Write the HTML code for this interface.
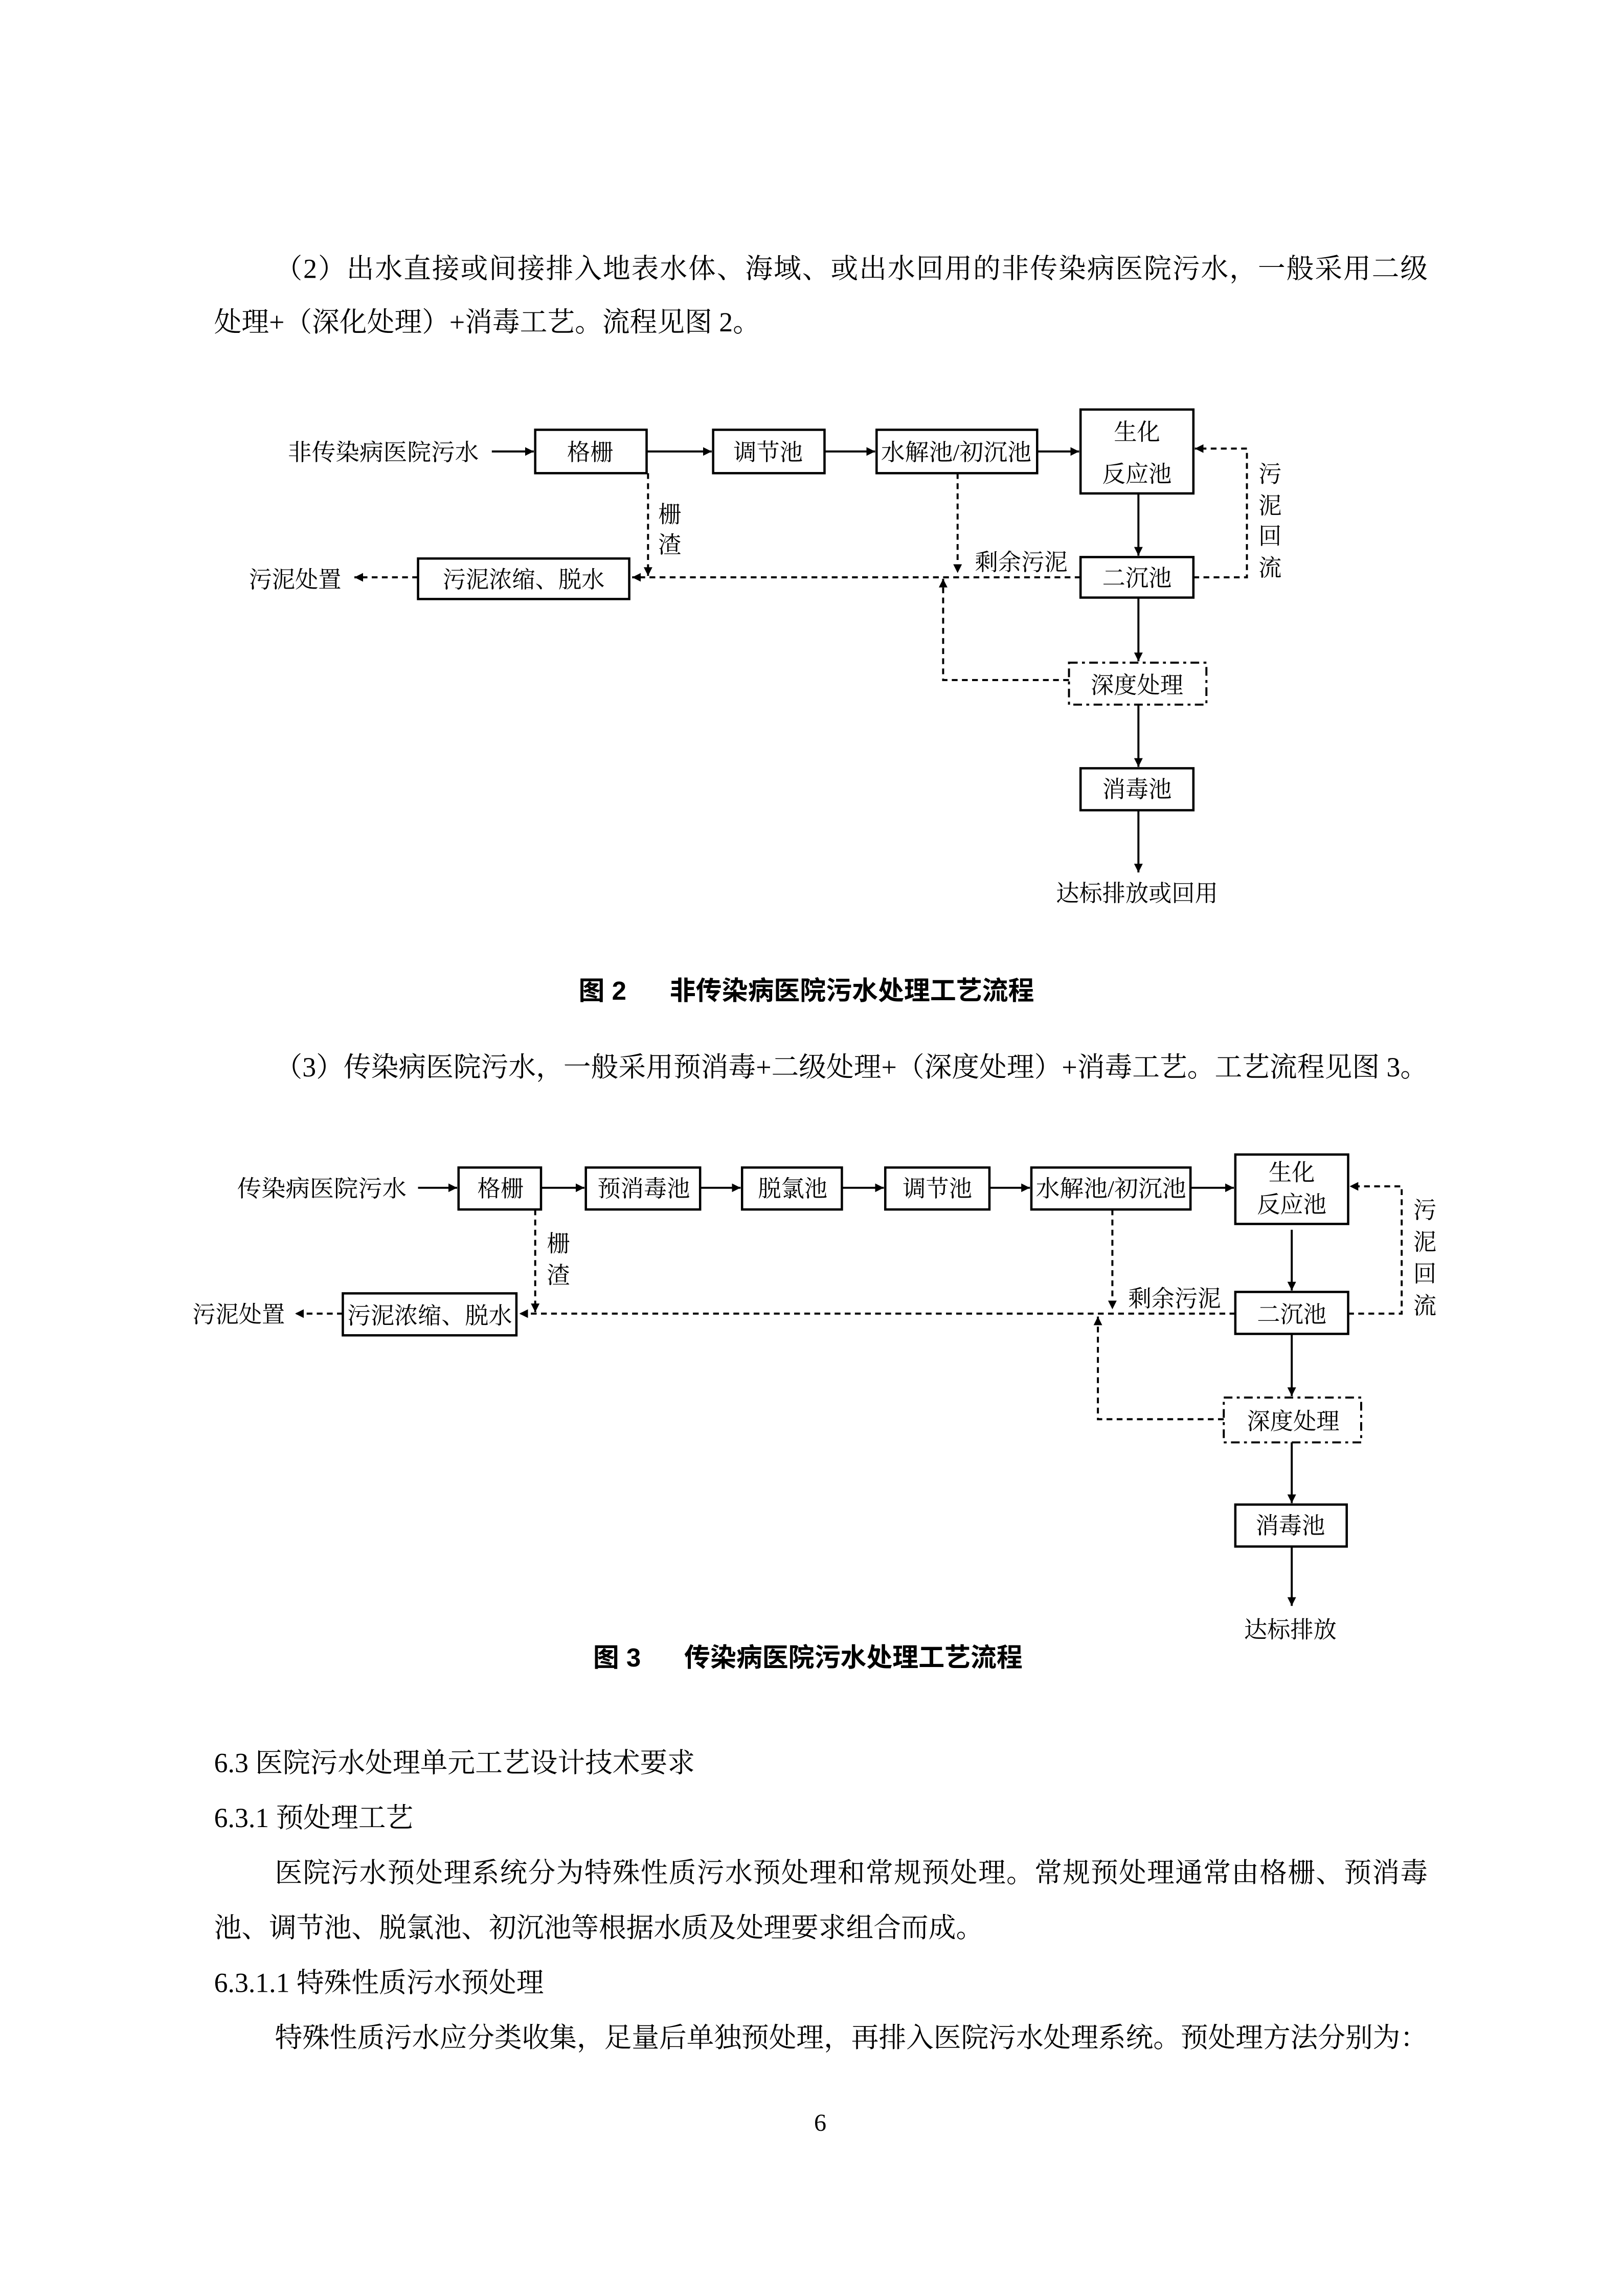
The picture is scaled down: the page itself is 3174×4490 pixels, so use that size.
<!DOCTYPE html>
<html><head><meta charset="utf-8"><style>
html,body{margin:0;padding:0;background:#fff;}
svg{display:block;}
.t{font-family:"Liberation Serif","Noto Serif CJK SC",serif;font-size:19px;fill:#000;}
.l{font-family:"Liberation Serif","Noto Serif CJK SC",serif;font-size:16px;fill:#000;}
.c{font-family:"Liberation Sans","Noto Sans CJK SC",sans-serif;font-size:18px;fill:#000;font-weight:bold;}
.b{fill:#fff;stroke:#000;stroke-width:1.6;}
.s{stroke:#000;stroke-width:1.4;fill:none;}
.d{stroke:#000;stroke-width:1.4;fill:none;stroke-dasharray:4 3;}
</style></head><body>
<svg width="3174" height="4490" viewBox="0 0 1122 1587" xmlns="http://www.w3.org/2000/svg">
<defs>
<marker id="a" viewBox="0 0 10 10" refX="10" refY="5" markerWidth="6" markerHeight="6" markerUnits="userSpaceOnUse" orient="auto"><path d="M0,0L10,5L0,10z" fill="#000"/></marker>
</defs>
<rect width="1122" height="1587" fill="#fff"/>
<text class="t" x="190" y="192" textLength="797" lengthAdjust="spacing">（2）出水直接或间接排入地表水体、海域、或出水回用的非传染病医院污水，一般采用二级</text>
<text class="t" x="148" y="229">处理+（深化处理）+消毒工艺。流程见图 2。</text>

<!-- Figure 2 -->
<g>
<text class="l" x="199" y="318" textLength="132" lengthAdjust="spacingAndGlyphs">非传染病医院污水</text>
<line class="s" x1="340" y1="312" x2="369" y2="312" marker-end="url(#a)"/>
<rect class="b" x="370" y="297" width="77" height="30"/><text class="l" x="408" y="318" text-anchor="middle">格栅</text>
<line class="s" x1="447" y1="312" x2="492" y2="312" marker-end="url(#a)"/>
<rect class="b" x="493" y="297" width="77" height="30"/><text class="l" x="531" y="318" text-anchor="middle">调节池</text>
<line class="s" x1="570" y1="312" x2="605" y2="312" marker-end="url(#a)"/>
<rect class="b" x="606" y="297" width="111" height="30"/><text class="l" x="661" y="318" text-anchor="middle" textLength="104" lengthAdjust="spacingAndGlyphs">水解池/初沉池</text>
<line class="s" x1="717" y1="312" x2="746" y2="312" marker-end="url(#a)"/>
<rect class="b" x="747" y="283" width="78" height="58"/><text class="l" x="786" y="304" text-anchor="middle">生化</text><text class="l" x="786" y="333" text-anchor="middle">反应池</text>
<line class="s" x1="787" y1="341" x2="787" y2="384" marker-end="url(#a)"/>
<rect class="b" x="747" y="385" width="78" height="28"/><text class="l" x="786" y="405" text-anchor="middle">二沉池</text>
<line class="s" x1="787" y1="413" x2="787" y2="457" marker-end="url(#a)"/>
<rect x="739" y="458" width="95" height="29" fill="#fff" stroke="#000" stroke-width="1.4" stroke-dasharray="6 3 2 3"/><text class="l" x="786" y="479" text-anchor="middle">深度处理</text>
<line class="s" x1="787" y1="487" x2="787" y2="530" marker-end="url(#a)"/>
<rect class="b" x="747" y="531" width="78" height="29"/><text class="l" x="786" y="551" text-anchor="middle">消毒池</text>
<line class="s" x1="787" y1="560" x2="787" y2="603" marker-end="url(#a)"/>
<text class="l" x="786" y="623" text-anchor="middle">达标排放或回用</text>
<polyline class="d" points="825,399 862,399 862,310 826,310" marker-end="url(#a)"/>
<text class="l" x="870" y="333">污</text><text class="l" x="870" y="355">泥</text><text class="l" x="870" y="376">回</text><text class="l" x="870" y="398">流</text>
<line class="d" x1="747" y1="399" x2="437" y2="399" marker-end="url(#a)"/>
<rect class="b" x="289" y="386" width="146" height="28"/><text class="l" x="362" y="406" text-anchor="middle">污泥浓缩、脱水</text>
<line class="d" x1="289" y1="399" x2="245" y2="399" marker-end="url(#a)"/>
<text class="l" x="172" y="406">污泥处置</text>
<line class="d" x1="448" y1="327" x2="448" y2="398" marker-end="url(#a)"/>
<text class="l" x="455" y="361">栅</text><text class="l" x="455" y="382">渣</text>
<line class="d" x1="662" y1="327" x2="662" y2="396" marker-end="url(#a)"/>
<text class="l" x="674" y="394">剩余污泥</text>
<polyline class="d" points="739,470 652,470 652,400" marker-end="url(#a)"/>
</g>
<text class="c" x="400" y="691">图 2</text><text class="c" x="463" y="691">非传染病医院污水处理工艺流程</text>

<text class="t" x="190" y="744" textLength="797" lengthAdjust="spacing">（3）传染病医院污水，一般采用预消毒+二级处理+（深度处理）+消毒工艺。工艺流程见图 3。</text>

<!-- Figure 3 -->
<g>
<text class="l" x="164" y="827" textLength="117" lengthAdjust="spacingAndGlyphs">传染病医院污水</text>
<line class="s" x1="289" y1="821" x2="316" y2="821" marker-end="url(#a)"/>
<rect class="b" x="317" y="807" width="57" height="29"/><text class="l" x="346" y="827" text-anchor="middle">格栅</text>
<line class="s" x1="374" y1="821" x2="404" y2="821" marker-end="url(#a)"/>
<rect class="b" x="405" y="807" width="79" height="29"/><text class="l" x="445" y="827" text-anchor="middle">预消毒池</text>
<line class="s" x1="484" y1="821" x2="512" y2="821" marker-end="url(#a)"/>
<rect class="b" x="513" y="807" width="69" height="29"/><text class="l" x="548" y="827" text-anchor="middle">脱氯池</text>
<line class="s" x1="582" y1="821" x2="611" y2="821" marker-end="url(#a)"/>
<rect class="b" x="612" y="807" width="72" height="29"/><text class="l" x="648" y="827" text-anchor="middle">调节池</text>
<line class="s" x1="684" y1="821" x2="712" y2="821" marker-end="url(#a)"/>
<rect class="b" x="713" y="807" width="110" height="29"/><text class="l" x="768" y="827" text-anchor="middle" textLength="104" lengthAdjust="spacingAndGlyphs">水解池/初沉池</text>
<line class="s" x1="823" y1="821" x2="853" y2="821" marker-end="url(#a)"/>
<rect class="b" x="854" y="798" width="78" height="48"/><text class="l" x="893" y="816" text-anchor="middle">生化</text><text class="l" x="893" y="838" text-anchor="middle">反应池</text>
<line class="s" x1="893" y1="850" x2="893" y2="892" marker-end="url(#a)"/>
<rect class="b" x="854" y="893" width="78" height="29"/><text class="l" x="893" y="914" text-anchor="middle">二沉池</text>
<line class="s" x1="893" y1="922" x2="893" y2="965" marker-end="url(#a)"/>
<rect x="846" y="966" width="95" height="31" fill="#fff" stroke="#000" stroke-width="1.4" stroke-dasharray="6 3 2 3"/><text class="l" x="894" y="988" text-anchor="middle">深度处理</text>
<line class="s" x1="893" y1="997" x2="893" y2="1039" marker-end="url(#a)"/>
<rect class="b" x="854" y="1040" width="77" height="29"/><text class="l" x="892" y="1060" text-anchor="middle">消毒池</text>
<line class="s" x1="893" y1="1069" x2="893" y2="1110" marker-end="url(#a)"/>
<text class="l" x="892" y="1132" text-anchor="middle">达标排放</text>
<polyline class="d" points="932,908 969,908 969,820 933,820" marker-end="url(#a)"/>
<text class="l" x="977" y="842">污</text><text class="l" x="977" y="864">泥</text><text class="l" x="977" y="886">回</text><text class="l" x="977" y="908">流</text>
<line class="d" x1="854" y1="908" x2="359" y2="908" marker-end="url(#a)"/>
<rect class="b" x="237" y="894" width="120" height="29"/><text class="l" x="297" y="915" text-anchor="middle" textLength="114" lengthAdjust="spacingAndGlyphs">污泥浓缩、脱水</text>
<line class="d" x1="237" y1="908" x2="204" y2="908" marker-end="url(#a)"/>
<text class="l" x="133" y="914">污泥处置</text>
<line class="d" x1="370" y1="836" x2="370" y2="907" marker-end="url(#a)"/>
<text class="l" x="378" y="865">栅</text><text class="l" x="378" y="887">渣</text>
<line class="d" x1="769" y1="836" x2="769" y2="905" marker-end="url(#a)"/>
<text class="l" x="780" y="903">剩余污泥</text>
<polyline class="d" points="846,981 759,981 759,910" marker-end="url(#a)"/>
</g>
<text class="c" x="410" y="1152">图 3</text><text class="c" x="473" y="1152">传染病医院污水处理工艺流程</text>

<text class="t" x="148" y="1225">6.3 医院污水处理单元工艺设计技术要求</text>
<text class="t" x="148" y="1263">6.3.1 预处理工艺</text>
<text class="t" x="190" y="1301" textLength="797" lengthAdjust="spacing">医院污水预处理系统分为特殊性质污水预处理和常规预处理。常规预处理通常由格栅、预消毒</text>
<text class="t" x="148" y="1339">池、调节池、脱氯池、初沉池等根据水质及处理要求组合而成。</text>
<text class="t" x="148" y="1377">6.3.1.1 特殊性质污水预处理</text>
<text class="t" x="190" y="1415" textLength="797" lengthAdjust="spacing">特殊性质污水应分类收集，足量后单独预处理，再排入医院污水处理系统。预处理方法分别为：</text>
<text class="t" x="567" y="1473" text-anchor="middle" style="font-size:17px">6</text>
</svg>
</body></html>
